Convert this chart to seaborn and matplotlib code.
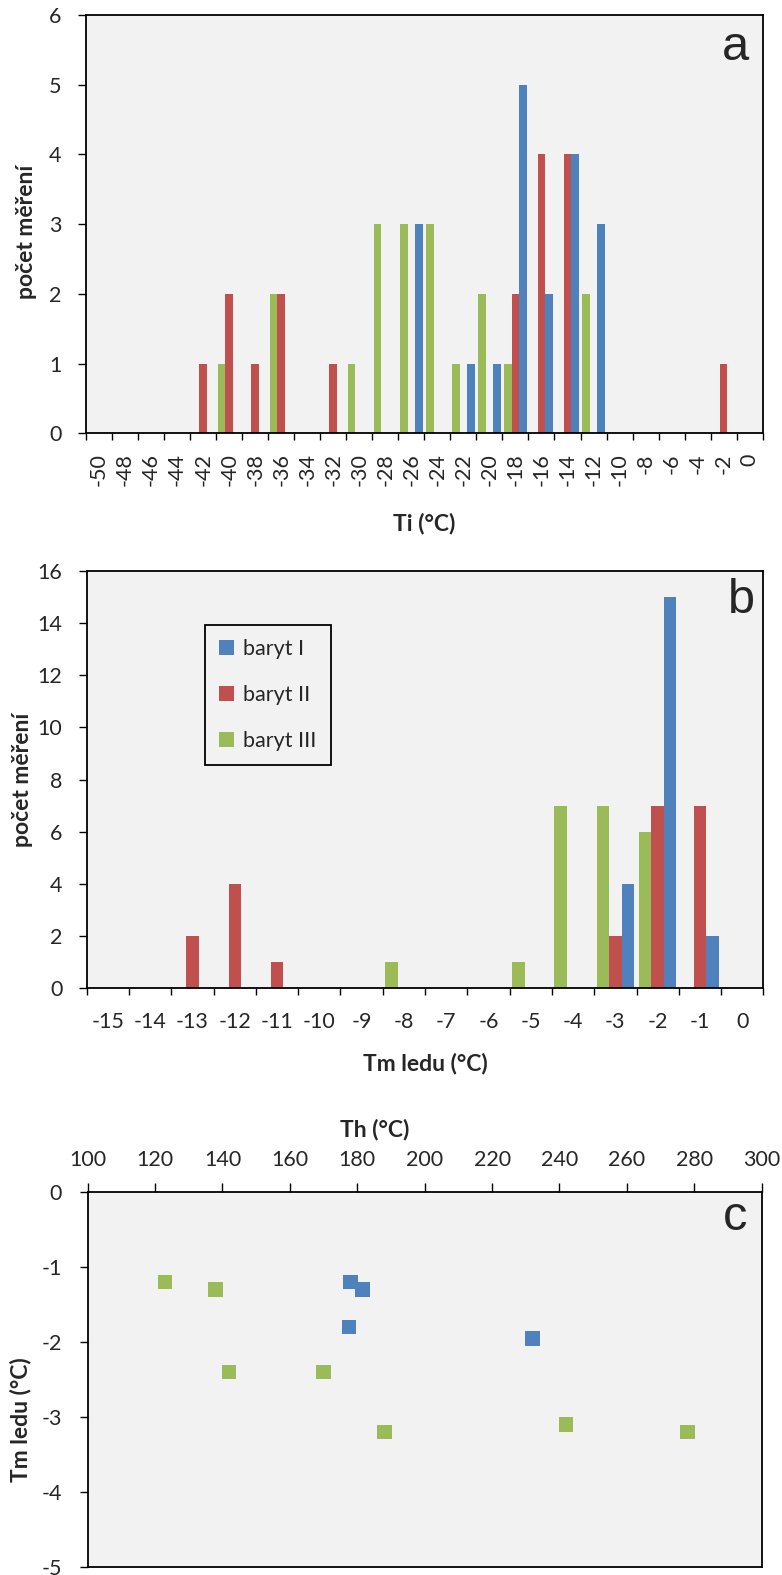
import numpy as np
import pandas as pd
import seaborn as sns
import matplotlib.pyplot as plt

sns.set_style("white")
plt.rcParams['font.family'] = ['Lato', 'DejaVu Sans']
plt.rcParams['axes.unicode_minus'] = False

series = ['baryt I', 'baryt II', 'baryt III']
palette = {'baryt I': '#4F81BD', 'baryt II': '#C0504D', 'baryt III': '#9BBB59'}
# inside each category Excel draws baryt III first, then II, then I
dodge_order = ['baryt III', 'baryt II', 'baryt I']

# ---- a: Ti histogram (2 degC bins)
ti_bins = [-50, -48, -46, -44, -42, -40, -38, -36, -34, -32, -30, -28, -26,
           -24, -22, -20, -18, -16, -14, -12, -10, -8, -6, -4, -2, 0]
ti_baryt1 = [0, 0, 0, 0, 0, 0, 0, 0, 0, 0, 0, 0, 3, 0, 1, 1, 5, 2, 4, 3, 0, 0, 0, 0, 0, 0]
ti_baryt2 = [0, 0, 0, 0, 1, 2, 1, 2, 0, 1, 0, 0, 0, 0, 0, 0, 2, 4, 4, 0, 0, 0, 0, 0, 1, 0]
ti_baryt3 = [0, 0, 0, 0, 0, 1, 0, 2, 0, 0, 1, 3, 3, 3, 1, 2, 1, 0, 0, 2, 0, 0, 0, 0, 0, 0]

# ---- b: Tm ice histogram (1 degC bins)
tm_bins = [-15, -14, -13, -12, -11, -10, -9, -8, -7, -6, -5, -4, -3, -2, -1, 0]
tm_baryt1 = [0, 0, 0, 0, 0, 0, 0, 0, 0, 0, 0, 0, 4, 15, 2, 0]
tm_baryt2 = [0, 0, 2, 4, 1, 0, 0, 0, 0, 0, 0, 0, 2, 7, 7, 0]
tm_baryt3 = [0, 0, 0, 0, 0, 0, 0, 1, 0, 0, 1, 7, 7, 6, 0, 0]

# ---- c: Th vs Tm ice
th_baryt1 = [178, 181.5, 177.5, 232]
tmc_baryt1 = [-1.2, -1.3, -1.8, -1.95]
th_baryt3 = [123, 138, 142, 170, 188, 242, 278]
tmc_baryt3 = [-1.2, -1.3, -2.4, -2.4, -3.2, -3.1, -3.2]


def long_table(bins, counts):
    rows = []
    for name, vals in zip(series, counts):
        for b, v in zip(bins, vals):
            rows.append({'bin': str(b), 'n': v, 'series': name})
    return pd.DataFrame(rows)


df_a = long_table(ti_bins, [ti_baryt1, ti_baryt2, ti_baryt3])
df_b = long_table(tm_bins, [tm_baryt1, tm_baryt2, tm_baryt3])
df_c = pd.concat([
    pd.DataFrame({'Th': th_baryt1, 'Tm': tmc_baryt1, 'series': 'baryt I'}),
    pd.DataFrame({'Th': th_baryt3, 'Tm': tmc_baryt3, 'series': 'baryt III'}),
])

FS = 15.5      # tick labels / legend
LFS = 16.5     # axis titles
LW = 1.3
BG = '#F2F2F2'
LETTER = ['Liberation Sans', 'DejaVu Sans']

fig = plt.figure(figsize=(7.82, 15.75), dpi=100)
ax_a = fig.add_axes([0.1100, 0.7249, 0.8653, 0.2656])
ax_b = fig.add_axes([0.1109, 0.3725, 0.8653, 0.2651])
ax_c = fig.add_axes([0.1121, 0.00527, 0.8619, 0.2377])


def frame(ax):
    ax.set_facecolor(BG)
    for sp in ax.spines.values():
        sp.set_visible(True)
        sp.set_color('black')
        sp.set_linewidth(LW)


def category_axis(ax, labels, rotation, pad):
    n = len(labels)
    ax.set_xlim(-0.5, n - 0.5)
    ax.set_xticks(range(n))
    ax.set_xticklabels(labels, rotation=rotation)
    ax.set_xticks(np.arange(-0.5, n), minor=True)
    ax.tick_params(axis='x', which='major', length=0, pad=5 + pad, labelsize=FS)
    ax.tick_params(axis='x', which='minor', length=5, width=1, direction='out',
                   color='black', bottom=True)
    ax.tick_params(axis='y', length=5.8, width=1, direction='out', pad=11.7,
                   labelsize=FS, color='black', left=True)


# ---- panel a
sns.barplot(data=df_a, x='bin', y='n', hue='series', order=[str(b) for b in ti_bins],
            hue_order=dodge_order, palette=palette, width=0.88, saturation=1,
            errorbar=None, linewidth=0, legend=False, ax=ax_a)
frame(ax_a)
category_axis(ax_a, [str(b) for b in ti_bins], 90, 9.4)
ax_a.set_ylim(0, 6)
ax_a.set_yticks(range(0, 7))
ax_a.set_xlabel('Ti (°C)', fontsize=LFS, fontweight='bold')
ax_a.set_ylabel('počet měření', fontsize=LFS, fontweight='bold')
ax_a.xaxis.set_label_coords(0.5, -0.19)
ax_a.yaxis.set_label_coords(-0.072, 0.481)
ax_a.text(0.960, 0.892, 'a', transform=ax_a.transAxes, fontsize=35,
          ha='center', va='baseline', family=LETTER)

# ---- panel b
sns.barplot(data=df_b, x='bin', y='n', hue='series', order=[str(b) for b in tm_bins],
            hue_order=dodge_order, palette=palette, width=0.88, saturation=1,
            errorbar=None, linewidth=0, legend=True, ax=ax_b)
frame(ax_b)
category_axis(ax_b, [str(b) for b in tm_bins], 0, 12)
ax_b.set_ylim(0, 16)
ax_b.set_yticks(range(0, 17, 2))
ax_b.set_xlabel('Tm ledu (°C)', fontsize=LFS, fontweight='bold')
ax_b.set_ylabel('počet měření', fontsize=LFS, fontweight='bold')
ax_b.xaxis.set_label_coords(0.5, -0.155)
ax_b.yaxis.set_label_coords(-0.079, 0.499)
ax_b.text(0.968, 0.899, 'b', transform=ax_b.transAxes, fontsize=35,
          ha='center', va='baseline', family=LETTER)

handles, labels = ax_b.get_legend_handles_labels()
lookup = dict(zip(labels, handles))
ax_b.legend([lookup[s] for s in series], series, loc='upper left',
            bbox_to_anchor=(0.175, 0.870), frameon=True, fancybox=False,
            edgecolor='black', facecolor=BG, framealpha=1, fontsize=FS,
            handlelength=0.68, handleheight=0.68, handletextpad=0.45,
            labelspacing=1.2, borderpad=0.65, borderaxespad=0)
ax_b.get_legend().get_frame().set_linewidth(LW)

# ---- panel c
sns.scatterplot(data=df_c, x='Th', y='Tm', hue='series', palette=palette,
                marker='s', s=110, linewidth=0, legend=False, ax=ax_c)
frame(ax_c)
ax_c.set_xlim(100, 300)
ax_c.set_ylim(-5, 0)
ax_c.set_xticks(range(100, 301, 20))
ax_c.set_yticks(range(-5, 1))
ax_c.xaxis.tick_top()
ax_c.xaxis.set_label_position('top')
ax_c.tick_params(axis='x', length=6.5, width=1, direction='out', pad=9.5,
                 labelsize=FS, color='black', top=True, bottom=False)
ax_c.tick_params(axis='y', length=5.5, width=1, direction='out', pad=13.2,
                 labelsize=FS, color='black', left=True)
ax_c.set_xlabel('Th (°C)', fontsize=LFS, fontweight='bold')
ax_c.set_ylabel('Tm ledu (°C)', fontsize=LFS, fontweight='bold')
ax_c.xaxis.set_label_coords(0.426, 1.150)
ax_c.yaxis.set_label_coords(-0.083, 0.394)
ax_c.text(0.961, 0.899, 'c', transform=ax_c.transAxes, fontsize=35,
          ha='center', va='baseline', family=LETTER)

fig.savefig('out.png', dpi=100)
